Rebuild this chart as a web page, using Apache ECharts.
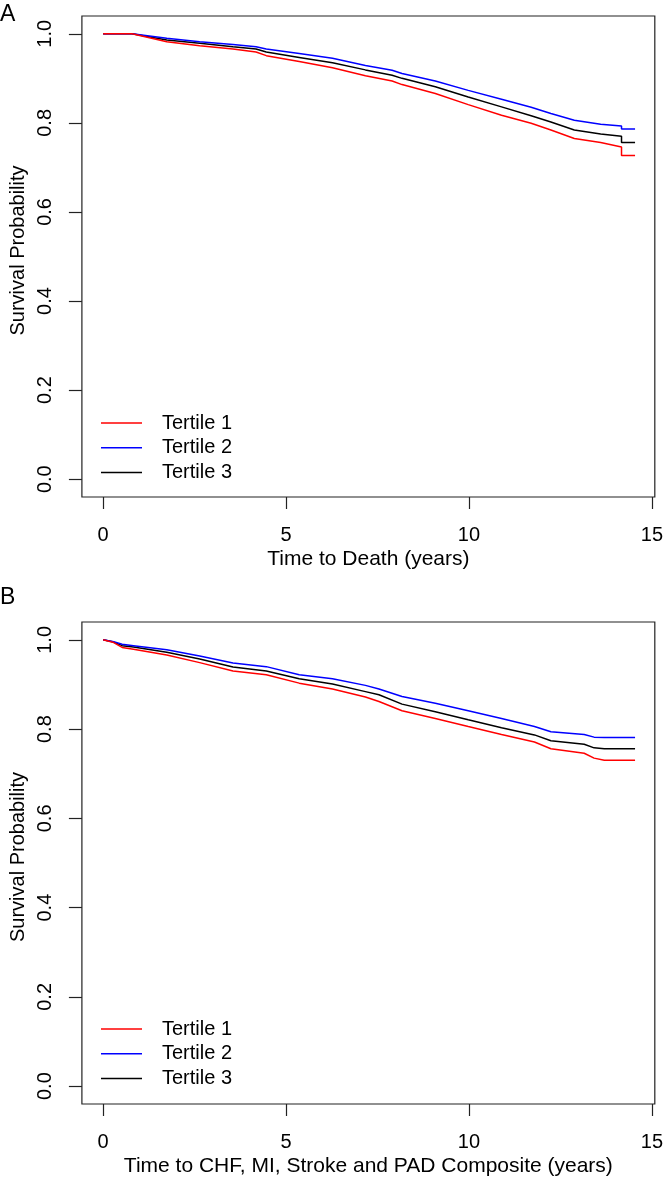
<!DOCTYPE html>
<html>
<head>
<meta charset="utf-8">
<script src="https://cdn.jsdelivr.net/npm/echarts@6/dist/echarts.min.js"></script>
<style>
html,body{margin:0;padding:0;background:#fff;}
#chart{width:666px;height:1181px;}
</style>
</head>
<body>
<div id="chart"></div>
<script>
// ---- Data ----
var seriesNames = ['Tertile 1', 'Tertile 2', 'Tertile 3'];
var seriesColors = ['#ff0000', '#0000ff', '#000000'];
var xTicks = [0, 5, 10, 15];
var yTicks = [0, 0.2, 0.4, 0.6, 0.8, 1.0];

// Panel A: Time to Death
var timeA = [0, 0.79, 1.74, 2.64, 3.55, 4.18, 4.46, 5.36, 6.27, 7.17, 7.90, 8.17, 9.08, 9.98, 10.89, 11.70, 12.24, 12.88, 13.60, 14.17, 14.17, 14.54];
var a_t1 = [1, 1, 0.982, 0.973, 0.966, 0.959, 0.951, 0.938, 0.924, 0.906, 0.894, 0.886, 0.866, 0.841, 0.817, 0.799, 0.784, 0.765, 0.756, 0.746, 0.727, 0.727];
var a_t2 = [1, 1, 0.990, 0.982, 0.976, 0.971, 0.966, 0.956, 0.945, 0.929, 0.918, 0.911, 0.894, 0.873, 0.853, 0.835, 0.821, 0.806, 0.797, 0.793, 0.786, 0.786];
var a_t3 = [1, 1, 0.986, 0.979, 0.971, 0.966, 0.959, 0.947, 0.935, 0.919, 0.907, 0.900, 0.881, 0.858, 0.836, 0.816, 0.802, 0.784, 0.775, 0.770, 0.756, 0.756];

// Panel B: Time to CHF, MI, Stroke and PAD Composite
var timeB = [0, 0.29, 0.52, 0.83, 1.74, 2.64, 3.55, 4.46, 5.36, 6.27, 7.17, 7.54, 8.17, 9.08, 9.98, 10.89, 11.79, 12.24, 13.15, 13.42, 13.70, 14.54];
var b_t1 = [1, 0.994, 0.983, 0.979, 0.966, 0.949, 0.930, 0.922, 0.903, 0.890, 0.872, 0.862, 0.841, 0.824, 0.806, 0.788, 0.771, 0.756, 0.746, 0.735, 0.730, 0.730];
var b_t2 = [1, 0.996, 0.990, 0.987, 0.978, 0.964, 0.948, 0.940, 0.922, 0.913, 0.898, 0.890, 0.873, 0.858, 0.841, 0.824, 0.806, 0.794, 0.788, 0.782, 0.781, 0.781];
var b_t3 = [1, 0.995, 0.987, 0.984, 0.972, 0.957, 0.939, 0.930, 0.913, 0.901, 0.884, 0.877, 0.856, 0.839, 0.821, 0.803, 0.787, 0.774, 0.766, 0.758, 0.756, 0.756];

var xTitleA = 'Time to Death (years)';
var xTitleB = 'Time to CHF, MI, Stroke and PAD Composite (years)';
var yTitle = 'Survival Probability';

// ---- Build ----
function pairs(t, v) { return t.map(function (x, i) { return [x, v[i]]; }); }
var FONT = 'Liberation Sans, Arial, Helvetica, sans-serif';
var FS = 20;

function xAxis(gi, name) {
  return {
    type: 'value', gridIndex: gi, min: -0.58, max: 15.08,
    name: name, nameLocation: 'middle', nameGap: 52,
    nameTextStyle: { fontFamily: FONT, fontSize: 21, color: '#000' },
    axisLine: { show: false, onZero: false },
    axisTick: { show: true, inside: false, length: 12, customValues: xTicks, lineStyle: { color: '#222', width: 1.2 } },
    axisLabel: { customValues: xTicks, margin: 28, fontFamily: FONT, fontSize: FS, color: '#000' },
    splitLine: { show: false }
  };
}
function yAxis(gi) {
  return {
    type: 'value', gridIndex: gi, min: -0.04, max: 1.04,
    name: yTitle, nameLocation: 'middle', nameGap: 52, nameRotate: 90,
    nameTextStyle: { fontFamily: FONT, fontSize: FS, color: '#000', padding: [0, 0, 0, 12] },
    axisLine: { show: false, onZero: false },
    axisTick: { show: true, inside: false, length: 13, customValues: yTicks, lineStyle: { color: '#222', width: 1.2 } },
    axisLabel: { customValues: yTicks, rotate: 90, margin: 26, fontFamily: FONT, fontSize: FS, color: '#000',
      formatter: function (v) { return v.toFixed(1); } },
    splitLine: { show: false }
  };
}
var dataA = [a_t1, a_t2, a_t3];
var dataB = [b_t1, b_t2, b_t3];
var series = [];
[0, 1].forEach(function (gi) {
  var d = gi === 0 ? dataA : dataB;
  var t = gi === 0 ? timeA : timeB;
  seriesNames.forEach(function (nm, i) {
    series.push({
      type: 'line', name: nm, xAxisIndex: gi, yAxisIndex: gi,
      data: pairs(t, d[i]), symbol: 'none', smooth: false,
      lineStyle: { color: seriesColors[i], width: 1.5 },
      itemStyle: { color: seriesColors[i] },
      animation: false, z: 3 - i
    });
  });
});
function legend(top) {
  return {
    data: seriesNames, orient: 'vertical', left: 101, top: top, padding: 0,
    icon: 'rect', itemWidth: 41, itemHeight: 1.5, itemGap: 4.7,
    textStyle: { fontFamily: FONT, fontSize: FS, color: '#000', lineHeight: 20, padding: [0, 0, 0, 15] },
    selectedMode: false
  };
}
var chart = echarts.init(document.getElementById('chart'), null, { renderer: 'canvas' });
chart.setOption({
  backgroundColor: '#fff',
  animation: false,
  title: [
    { text: 'A', left: 0, top: 3, padding: 0, textStyle: { fontFamily: FONT, fontSize: 23, fontWeight: 'normal', color: '#000' } },
    { text: 'B', left: 0, top: 586, padding: 0, textStyle: { fontFamily: FONT, fontSize: 23, fontWeight: 'normal', color: '#000' } }
  ],
  legend: [legend(413), legend(1019)],
  grid: [
    { left: 81, top: 16, width: 577, height: 481, show: true, borderColor: '#222', borderWidth: 1.2 },
    { left: 81, top: 622, width: 577, height: 482, show: true, borderColor: '#222', borderWidth: 1.2 }
  ],
  xAxis: [xAxis(0, xTitleA), xAxis(1, xTitleB)],
  yAxis: [yAxis(0), yAxis(1)],
  series: series
});
</script>
</body>
</html>
